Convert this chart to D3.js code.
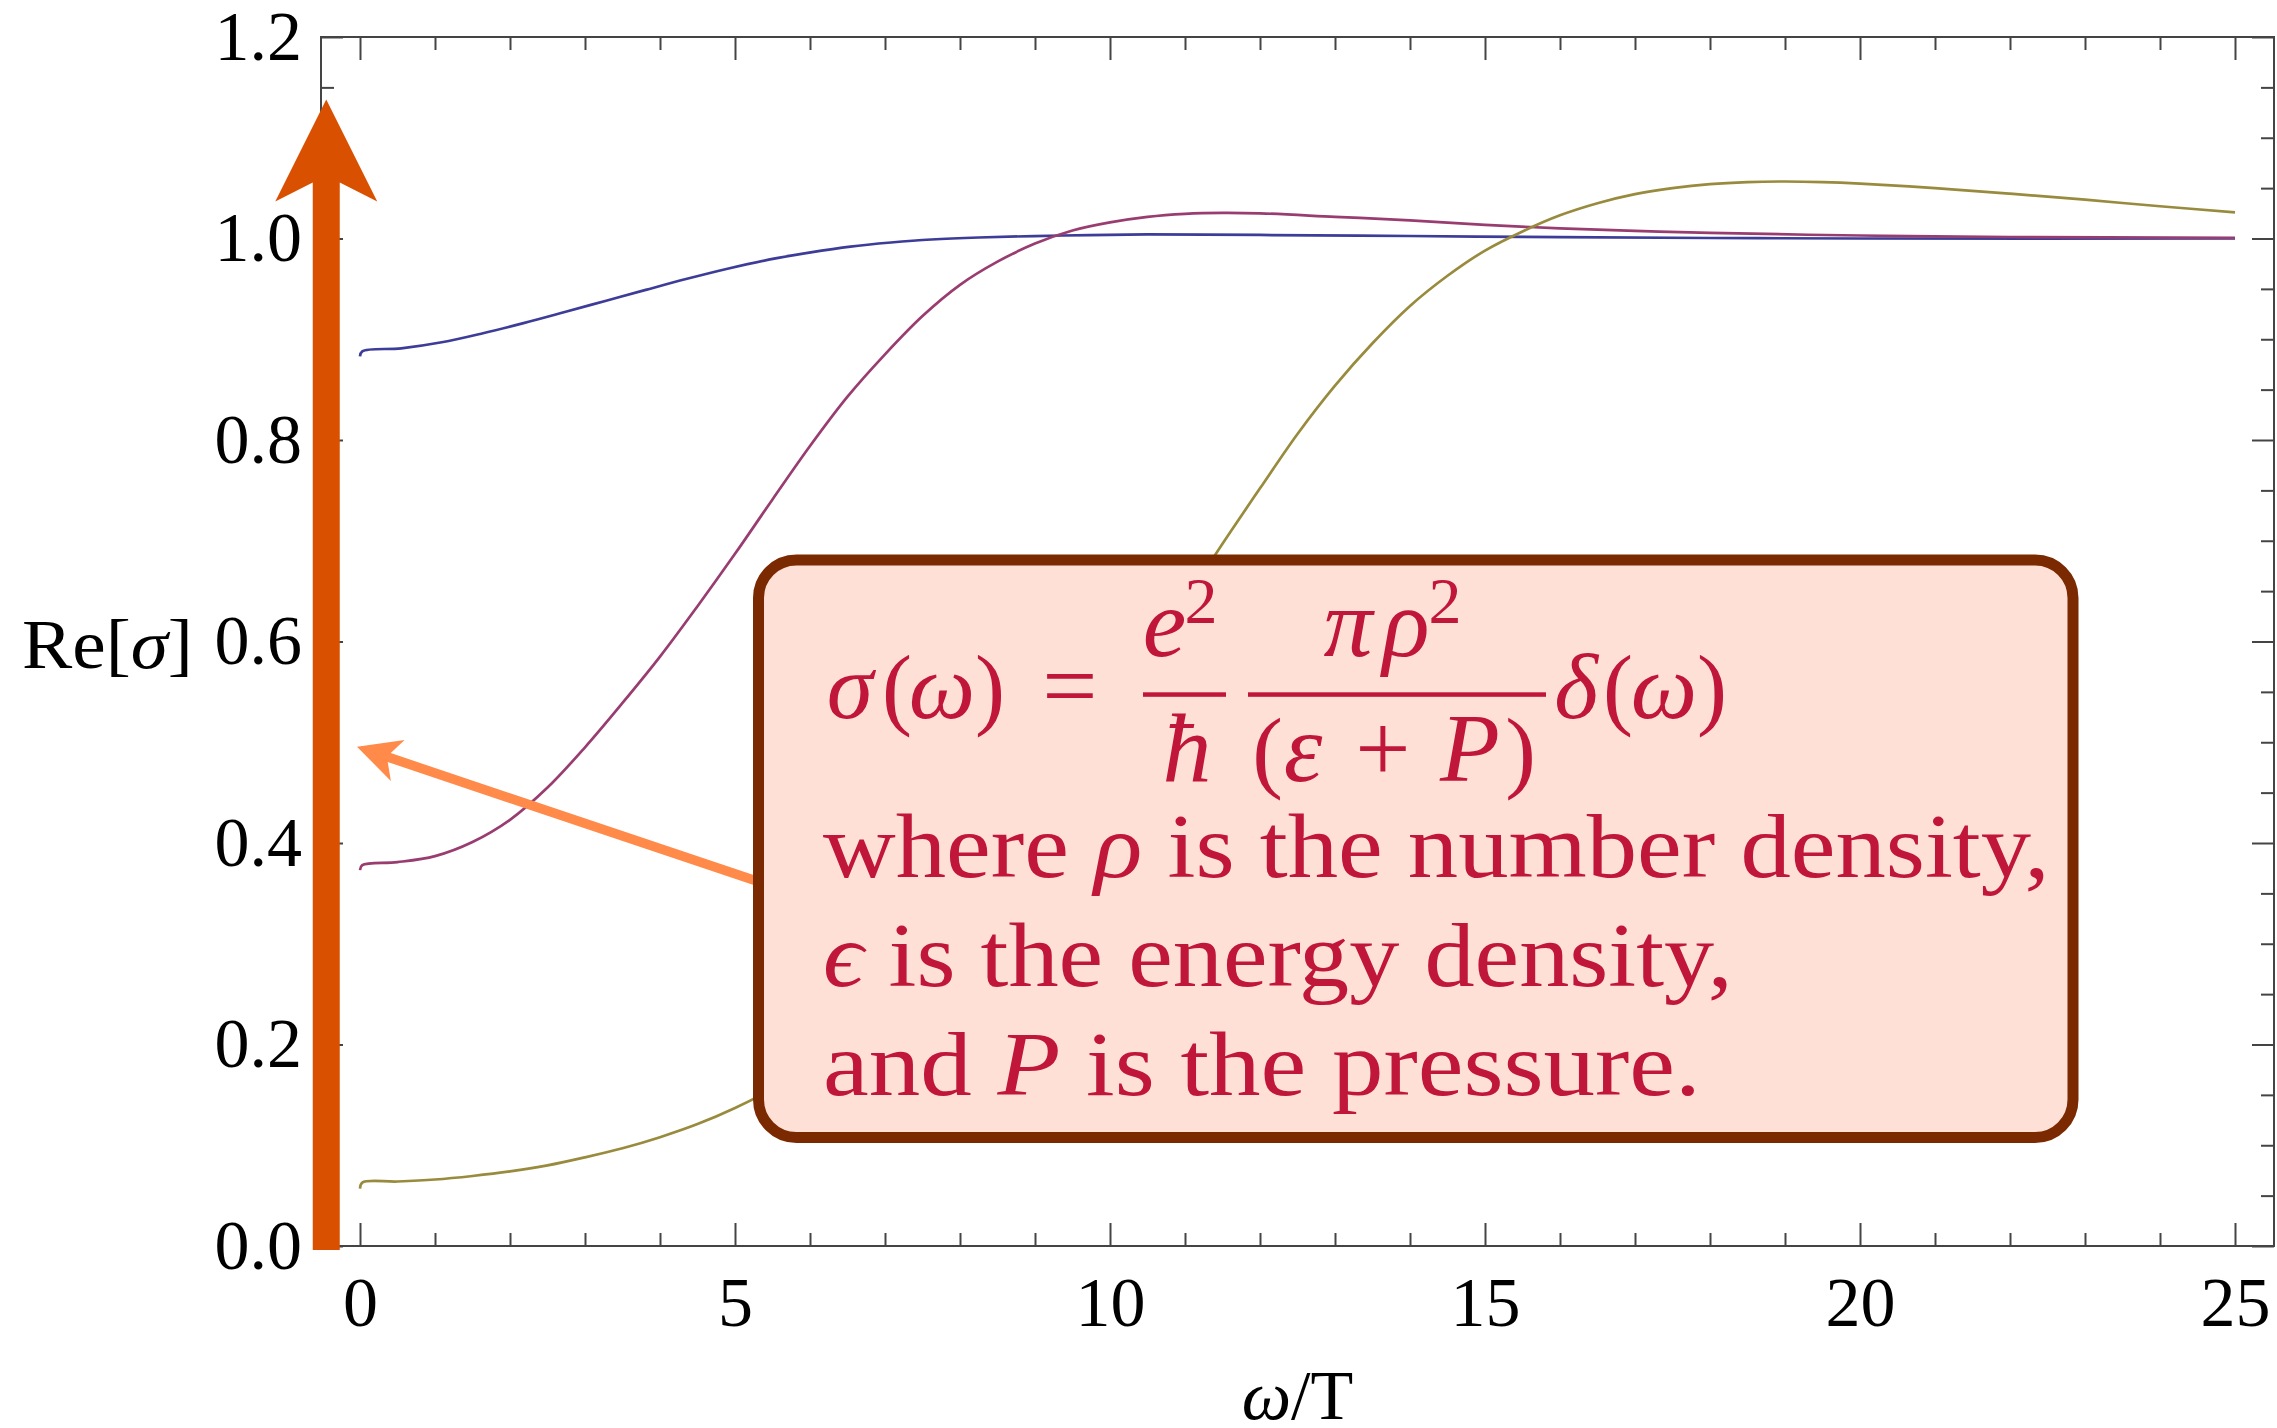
<!DOCTYPE html>
<html>
<head>
<meta charset="utf-8">
<script src="https://cdn.jsdelivr.net/npm/d3@7"></script>
<style>
  html, body { margin: 0; padding: 0; background: #ffffff; }
  svg { display: block; }
</style>
</head>
<body>
<svg id="chart" width="2277" height="1428"></svg>
<script>
// Real part of the conductivity against ω/T for three charge densities.

const omegaLow = [0, 0.03, 0.55, 1.09, 1.64, 2.18, 2.73, 3.27, 3.81, 4.36, 4.9, 5.45, 5.99, 6.54,
                  7.08, 7.62, 8.25, 9.37, 10.5, 12, 14, 16, 18, 20, 25];
const sigmaLow = [0.883, 0.888, 0.891, 0.897, 0.906, 0.916, 0.927, 0.938, 0.949, 0.960, 0.970, 0.979,
                  0.986, 0.992, 0.996, 0.999, 1.001, 1.003, 1.004, 1.0035, 1.0025, 1.0013, 1.0005, 1.0, 1.0];

const omegaMid = [0, 0.03, 0.5, 1, 1.5, 2, 2.5, 3, 3.5, 4, 4.5, 5, 5.5, 6, 6.5, 7, 7.5, 8, 8.5, 9, 9.5,
                  10, 10.5, 11, 11.5, 12, 13, 14, 15, 16, 17, 18, 20, 22, 25];
const sigmaMid = [0.373, 0.378, 0.381, 0.387, 0.401, 0.423, 0.455, 0.495, 0.539, 0.585, 0.635, 0.687,
                  0.741, 0.794, 0.843, 0.885, 0.923, 0.954, 0.977, 0.995, 1.008, 1.016, 1.0215, 1.0245,
                  1.0255, 1.025, 1.0215, 1.018, 1.0135, 1.010, 1.0075, 1.0055, 1.003, 1.0015, 1.0007];

const omegaHigh = [0, 0.03, 0.5, 1, 1.5, 2, 2.5, 3, 3.5, 4, 4.5, 5, 5.5, 6, 7, 8, 9, 10, 11, 11.5, 12,
                   12.5, 13, 13.5, 14, 14.5, 15, 15.5, 16, 16.5, 17, 17.5, 18, 18.5, 19, 19.5, 20,
                   21, 22, 23, 24, 25];
const sigmaHigh = [0.057, 0.063, 0.064, 0.066, 0.0695, 0.074, 0.080, 0.088, 0.097, 0.108, 0.121, 0.137,
                   0.156, 0.178, 0.229, 0.305, 0.405, 0.522, 0.640, 0.697, 0.752, 0.806, 0.854, 0.896,
                   0.933, 0.963, 0.988, 1.007, 1.023, 1.035, 1.044, 1.050, 1.054, 1.0560, 1.0566,
                   1.0560, 1.0545, 1.050, 1.0445, 1.0385, 1.032, 1.026];

const seriesColors = ["#3d3d99", "#993d71", "#998b3d"];

const xMajorTicks = [0, 5, 10, 15, 20, 25];
const xTickLabels = ["0", "5", "10", "15", "20", "25"];
const yMajorTicks = [0, 0.2, 0.4, 0.6, 0.8, 1.0, 1.2];
const yTickLabels = ["0.0", "0.2", "0.4", "0.6", "0.8", "1.0", "1.2"];

// delta-function peak at ω = 0, drawn just left of the first point
const deltaOmega = -0.45;
const deltaHeight = 1.138;

// pointer from the note towards the peak
const pointerFrom = [5.9, 0.347];
const pointerTo = [-0.04, 0.4955];

const svg = d3.select("#chart");
const serif = "'Liberation Serif', 'Times New Roman', 'DejaVu Serif', serif";

const x = d3.scaleLinear().domain([-0.52, 25.52]).range([321, 2274]);
const y = d3.scaleLinear().domain([0, 1.2]).range([1246, 37]);

const xMinor = d3.range(0, 26).filter(v => v % 5 !== 0);
const yMinor = d3.range(0, 25).filter(i => i % 4 !== 0).map(i => i * 0.05);

const frameColor = "#444444";

function styleAxis(g) {
  g.select(".domain").remove();
  g.attr("color", frameColor);
  g.selectAll(".tick line").attr("stroke-width", 2);
  g.selectAll("text")
    .attr("font-family", serif)
    .attr("font-size", 70)
    .attr("fill", "#000");
}

// bottom axis
svg.append("g").attr("transform", `translate(0,${y(0)})`)
  .call(d3.axisBottom(x).tickValues(xMajorTicks).tickSize(-23).tickSizeOuter(0)
    .tickPadding(30).tickFormat((d, i) => xTickLabels[i]))
  .call(styleAxis);
svg.append("g").attr("transform", `translate(0,${y(0)})`)
  .call(d3.axisBottom(x).tickValues(xMinor).tickSize(-13).tickSizeOuter(0).tickFormat(""))
  .call(styleAxis);

// top axis
svg.append("g").attr("transform", `translate(0,${y(1.2)})`)
  .call(d3.axisTop(x).tickValues(xMajorTicks).tickSize(-23).tickSizeOuter(0).tickFormat(""))
  .call(styleAxis);
svg.append("g").attr("transform", `translate(0,${y(1.2)})`)
  .call(d3.axisTop(x).tickValues(xMinor).tickSize(-13).tickSizeOuter(0).tickFormat(""))
  .call(styleAxis);

// left axis
svg.append("g").attr("transform", `translate(${x.range()[0]},0)`)
  .call(d3.axisLeft(y).tickValues(yMajorTicks).tickSize(-22).tickSizeOuter(0)
    .tickPadding(19).tickFormat((d, i) => yTickLabels[i]))
  .call(styleAxis);
svg.append("g").attr("transform", `translate(${x.range()[0]},0)`)
  .call(d3.axisLeft(y).tickValues(yMinor).tickSize(-13).tickSizeOuter(0).tickFormat(""))
  .call(styleAxis);

// right axis
svg.append("g").attr("transform", `translate(${x.range()[1]},0)`)
  .call(d3.axisRight(y).tickValues(yMajorTicks).tickSize(-22).tickSizeOuter(0).tickFormat(""))
  .call(styleAxis);
svg.append("g").attr("transform", `translate(${x.range()[1]},0)`)
  .call(d3.axisRight(y).tickValues(yMinor).tickSize(-13).tickSizeOuter(0).tickFormat(""))
  .call(styleAxis);

// frame
svg.append("rect")
  .attr("x", x.range()[0]).attr("y", y(1.2))
  .attr("width", x.range()[1] - x.range()[0])
  .attr("height", y(0) - y(1.2))
  .attr("fill", "none").attr("stroke", frameColor).attr("stroke-width", 2);

// axis titles
const yTitle = svg.append("text")
  .attr("font-family", serif).attr("font-size", 70).attr("fill", "#000");
yTitle.append("tspan").text("Re[");
yTitle.append("tspan").attr("font-style", "italic").text("σ");
yTitle.append("tspan").text("]");
{
  const w = yTitle.node().getComputedTextLength();
  const target = 171;
  yTitle.attr("transform", `translate(${193 - target},668) scale(${target / w},1)`);
}

const xTitle = svg.append("text")
  .attr("x", (x.range()[0] + x.range()[1]) / 2).attr("y", 1419)
  .attr("text-anchor", "middle")
  .attr("font-family", serif).attr("font-size", 70).attr("fill", "#000");
xTitle.append("tspan").attr("font-style", "italic").text("ω");
xTitle.append("tspan").text("/T");

// curves
const line = d3.line().x(d => x(d[0])).y(d => y(d[1])).curve(d3.curveCatmullRom.alpha(0.5));
const series = [
  d3.zip(omegaLow, sigmaLow),
  d3.zip(omegaMid, sigmaMid),
  d3.zip(omegaHigh, sigmaHigh)
];
svg.append("g").selectAll("path")
  .data(series)
  .join("path")
  .attr("d", line)
  .attr("fill", "none")
  .attr("stroke", (d, i) => seriesColors[i])
  .attr("stroke-width", 2.7)
  .attr("stroke-linejoin", "round");

// arrow outline: tail, tip, shaft width, head length, head half-width, depth where the shaft meets the head
function arrowShape(tail, tip, shaft, headLen, headHalf, notch) {
  const dx = tip[0] - tail[0], dy = tip[1] - tail[1];
  const len = Math.hypot(dx, dy);
  const ux = dx / len, uy = dy / len;
  const vx = -uy, vy = ux;
  const at = (a, b) => [tip[0] - ux * a + vx * b, tip[1] - uy * a + vy * b];
  const hs = shaft / 2;
  return [
    tip,
    at(headLen, headHalf),
    at(notch, hs),
    [tail[0] + vx * hs, tail[1] + vy * hs],
    [tail[0] - vx * hs, tail[1] - vy * hs],
    at(notch, -hs),
    at(headLen, -headHalf)
  ];
}

// delta peak at the origin
svg.append("polygon")
  .attr("points", arrowShape([x(deltaOmega), y(-0.004)], [x(deltaOmega), y(deltaHeight)], 27, 102, 51, 83)
    .map(p => p.join(",")).join(" "))
  .attr("fill", "#d95000");

// pointer from the note
svg.append("polygon")
  .attr("points", arrowShape([x(pointerFrom[0]), y(pointerFrom[1])], [x(pointerTo[0]), y(pointerTo[1])], 9.5, 43, 21.6, 34)
    .map(p => p.join(",")).join(" "))
  .attr("fill", "#ff8a4a");

// note box
const note = svg.append("g");
note.append("rect")
  .attr("x", 758.5).attr("y", 560)
  .attr("width", 1314.5).attr("height", 577.5)
  .attr("rx", 38).attr("ry", 38)
  .attr("fill", "#ffe0d6")
  .attr("stroke", "#7b2900")
  .attr("stroke-width", 11);

const ink = "#c0163a";

// σ(ω) = e²/ħ · πρ²/(ε+P) · δ(ω)
const glyphs = [
  ["σ", 850, 718, 94, true], ["(", 897, 718, 90, false], ["ω", 942, 718, 94, true], [")", 990, 718, 90, false],
  ["=", 1070, 718, 98, false],
  ["e", 1164.5, 656, 98, true], ["2", 1201, 623, 66, false],
  ["ħ", 1187, 781, 98, true],
  ["π", 1348, 656, 98, true], ["ρ", 1406, 656, 98, true], ["2", 1445, 623, 66, false],
  ["(", 1267.5, 781, 92, false], ["ε", 1303, 781, 98, true], ["+", 1383, 781, 98, false],
  ["P", 1470, 781, 98, true], [")", 1520.5, 781, 92, false],
  ["δ", 1576, 718, 94, true], ["(", 1618, 718, 90, false], ["ω", 1664, 718, 94, true], [")", 1712, 718, 90, false]
];
note.append("g").selectAll("text")
  .data(glyphs)
  .join("text")
  .attr("x", d => d[1]).attr("y", d => d[2])
  .attr("text-anchor", "middle")
  .attr("font-family", serif)
  .attr("font-size", d => d[3])
  .attr("font-style", d => d[4] ? "italic" : "normal")
  .attr("fill", ink)
  .text(d => d[0]);

[[1143, 1226], [1248, 1546]].forEach(([a, b]) => {
  note.append("rect").attr("x", a).attr("y", 692.3).attr("width", b - a).attr("height", 4.5).attr("fill", ink);
});

// explanatory lines, each stretched to its set width
const lines = [
  { y: 877, w: 1227, parts: [["where ", false], ["ρ", true], [" is the number density,", false]] },
  { y: 986, w: 910, parts: [["ϵ", true], [" is the energy density,", false]] },
  { y: 1095, w: 878, parts: [["and ", false], ["P", true], [" is the pressure.", false]] }
];
lines.forEach(l => {
  const t = note.append("text")
    .attr("font-family", serif).attr("font-size", 92).attr("fill", ink);
  l.parts.forEach(([s, it]) => {
    t.append("tspan").attr("font-style", it ? "italic" : "normal").text(s);
  });
  const natural = t.node().getComputedTextLength();
  t.attr("transform", `translate(823,${l.y}) scale(${l.w / natural},1)`);
});
</script>
</body>
</html>
